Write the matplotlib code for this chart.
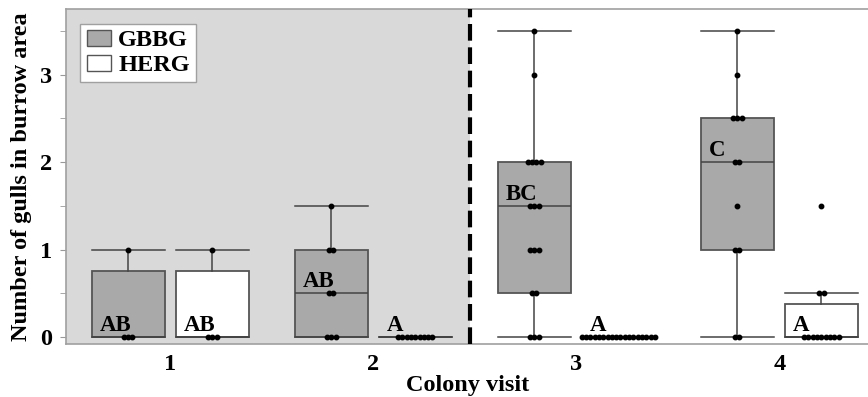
import numpy as np
import matplotlib
matplotlib.use("Agg")
import matplotlib.pyplot as plt
from matplotlib.patches import Patch

# ---- data ----
visits = ["1", "2", "3", "4"]
species = ["GBBG", "HERG"]
gbbg = [
    [0, 0, 0, 1],
    [0, 0, 0, 0.5, 0.5, 1, 1, 1.5],
    [0, 0, 0, 0.5, 0.5, 1, 1, 1, 1.5, 1.5, 1.5, 2, 2, 2, 2, 3, 3.5],
    [0, 0, 1, 1, 1.5, 2, 2, 2.5, 2.5, 2.5, 3, 3.5],
]
herg = [
    [0, 0, 0, 1],
    [0] * 9,
    [0] * 18,
    [0] * 9 + [0.5, 0.5, 1.5],
]
gbbg_letters = ["AB", "AB", "BC", "C"]
herg_letters = ["AB", "A", "A", "A"]

# ---- style ----
plt.rcParams['font.family'] = ['Liberation Serif', 'DejaVu Serif']
plt.rcParams['font.weight'] = 'bold'

fig = plt.figure(figsize=(8.68, 3.97), dpi=100)
ax = fig.add_axes([66 / 868, 1 - 344 / 397, 1 - 66 / 868 + 0.002, (344 - 9) / 397])

xmin, xmax = -0.513, 3.445
ax.set_xlim(xmin, xmax)
ax.set_ylim(-0.08, 3.75)

split = 1.475
ax.axvspan(xmin, split, color='#d9d9d9', zorder=0, lw=0)
ax.axvline(split, color='black', lw=3, ls=(0, (4.0, 1.6)), zorder=5)

colors = {"GBBG": '#a9a9a9', "HERG": '#ffffff'}
edge = '#555555'
width = 0.36
offset = 0.207
spacing = 0.0212


def stats(d):
    d = np.asarray(d, dtype=float)
    q1 = np.percentile(d, 25, method='weibull')
    med = np.median(d)
    q3 = np.percentile(d, 75, method='weibull')
    iqr = q3 - q1
    lo = d[d >= q1 - 1.5 * iqr].min()
    hi = d[d <= q3 + 1.5 * iqr].max()
    return dict(med=med, q1=q1, q3=q3, whislo=lo, whishi=hi, fliers=[])


for sp, data, letters, sgn in [("GBBG", gbbg, gbbg_letters, -1),
                                ("HERG", herg, herg_letters, 1)]:
    pos = [i + sgn * offset for i in range(len(visits))]
    st = [stats(d) for d in data]
    ax.bxp(st, positions=pos, widths=width, patch_artist=True, showfliers=False,
           boxprops=dict(facecolor=colors[sp], edgecolor=edge, lw=1.3),
           medianprops=dict(color='#444444', lw=1.1),
           whiskerprops=dict(color='#444444', lw=1.1),
           capprops=dict(color='#444444', lw=1.1),
           capwidths=width, zorder=2)
    for p, d, s, lab in zip(pos, data, st, letters):
        vals, counts = np.unique(d, return_counts=True)
        for v, k in zip(vals, counts):
            xs = p + (np.arange(k) - (k - 1) / 2) * spacing
            ax.plot(xs, [v] * k, 'o', color='black', ms=3.2, zorder=4)
        ax.text(p - width / 2 + 0.04, s['med'] + 0.07, lab, fontsize=16.5,
                fontweight='bold', ha='left', va='baseline', zorder=6)

ax.set_xticks(range(len(visits)))
ax.set_xticklabels(visits)
ax.set_yticks([0, 1, 2, 3])
ax.set_yticks([0.5, 1.5, 2.5, 3.5], minor=True)
ax.tick_params(axis='x', length=0, labelsize=17.5, pad=7)
ax.tick_params(axis='y', which='both', direction='out', length=4, color='#999999',
               labelsize=17.5, pad=6)

for s in ['left', 'bottom', 'top']:
    ax.spines[s].set_color('#a0a0a0')
    ax.spines[s].set_linewidth(1.2)
ax.spines['right'].set_visible(False)

ax.set_xlabel("Colony visit", fontsize=17.5, fontweight='bold', labelpad=0)
ax.set_ylabel("Number of gulls in burrow area", fontsize=17.5, fontweight='bold', labelpad=6)

handles = [Patch(facecolor=colors[s], edgecolor=edge, lw=1.0) for s in species]
leg = ax.legend(handles, species, loc='upper left', bbox_to_anchor=(0.018, 0.955),
                fancybox=False, framealpha=1, edgecolor='#a0a0a0',
                prop=dict(size=17.5, weight='bold'), handlelength=1.0, handleheight=0.6,
                handletextpad=0.3, borderpad=0.25, labelspacing=0.15, borderaxespad=0)
leg.get_frame().set_linewidth(1.0)
leg.set_zorder(7)

fig.savefig("out.png", dpi=100)
